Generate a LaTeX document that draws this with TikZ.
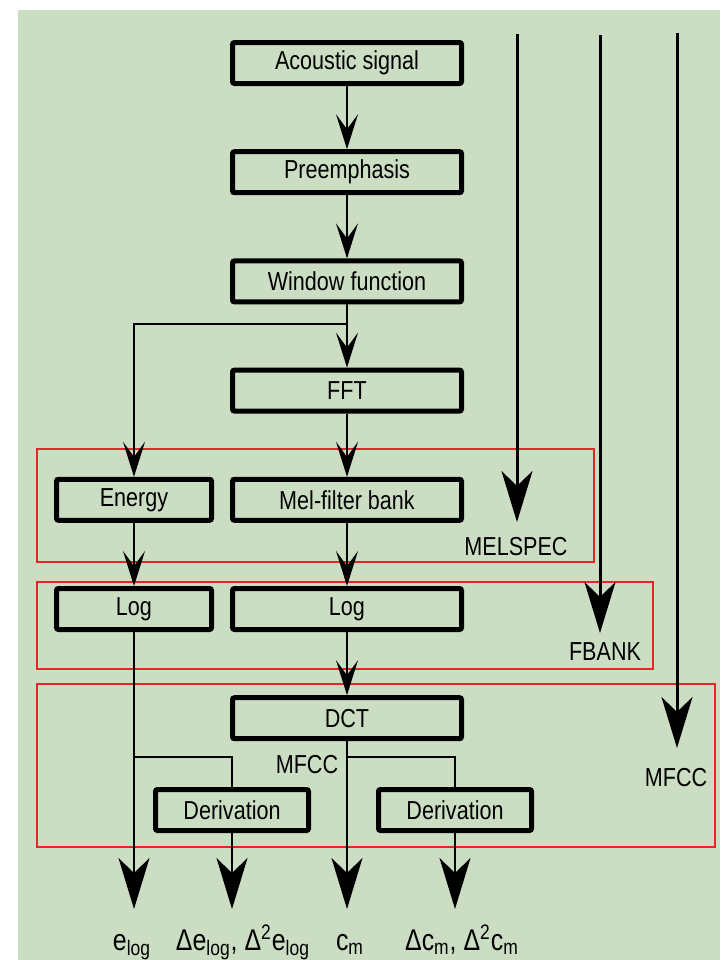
\documentclass[tikz,border=0pt]{standalone}
\usepackage{fontspec}
\setmainfont{Liberation Sans}[FakeStretch=0.83]
\usepackage{tikz}
\usetikzlibrary{arrows.meta,positioning}
\definecolor{bgc}{RGB}{203,222,195}
\definecolor{frm}{RGB}{232,36,40}

\begin{document}
\begin{tikzpicture}[x=0.5pt, y=-0.5pt, node distance=31.6pt, line width=1pt,
    small/.style={-{Stealth[length=17.5pt,width=11pt,inset=7.5pt]}},
    big/.style={-{Stealth[length=25.5pt,width=15.5pt,inset=7.5pt]}}]
\tikzstyle{box}=[draw=black, line width=2.5pt, rounded corners=1pt, minimum width=114.5pt, minimum height=20.5pt, inner sep=0pt, font=\fontsize{13}{15}\selectfont]
\tikzstyle{sbox}=[box, minimum width=77.5pt]
\tikzstyle{lbl}=[font=\fontsize{13}{15}\selectfont, inner sep=0pt]
\tikzstyle{outlbl}=[font=\fontsize{15}{18}\selectfont, inner sep=0pt, text height=20pt, text depth=3pt, anchor=north]
\tikzstyle{frame}=[draw=frm, line width=1pt]
% background and page
\fill[white] (0,0) rectangle (720,960);
\fill[bgc] (18,10) rectangle (720,960);
\useasboundingbox (0,0) rectangle (720,960);
% main column
\node[box]                      (acoustic) at (347,63) {Acoustic signal};
\node[box, below=of acoustic]   (preemph)  {Preemphasis};
\node[box, below=of preemph]    (window)   {Window function};
\node[box, below=of window]     (fft)      {FFT};
\node[box, below=of fft]        (melbank)  {Mel-filter bank};
\node[box, below=of melbank]    (logmel)   {Log};
\node[box, below=of logmel]     (dct)      {DCT};
% side column
\node[sbox, left=8pt of melbank] (energy) {Energy};
\node[sbox, left=8pt of logmel]  (logen)  {Log};
\node[sbox, minimum width=76.5pt] (deriv1) at (232,810) {Derivation};
\node[sbox, minimum width=76.5pt] (deriv2) at (455,810) {Derivation};
\coordinate[below=10pt of window.south] (split1);
\coordinate[below=8pt of dct.south]     (split2);
% labels
\node[lbl] (mfcc)    at (307,765) {MFCC};
\node[lbl] (melspec) at (516,547) {MELSPEC};
\node[lbl] (fbank)   at (605,652) {FBANK};
\node[lbl] (mfccr)   at (676,778) {MFCC};
\node[outlbl] (elog)  at (132,909) {e\textsubscript{log}};
\node[outlbl] (delog) at (243,909) {Δe\textsubscript{log}, Δ\textsuperscript{2}e\textsubscript{log}};
\node[outlbl] (cm)    at (350,909) {c\textsubscript{m}};
\node[outlbl] (dcm)   at (462,909) {Δc\textsubscript{m}, Δ\textsuperscript{2}c\textsubscript{m}};
% red frames
\draw[frame] (37,449) rectangle (594,562);
\draw[frame] (37,582) rectangle (653,669);
\draw[frame] (37,684) rectangle (715,847);
% connectors
\draw[small] (acoustic) -- (preemph);
\draw[small] (preemph) -- (window);
\draw[small] (window) -- (fft);
\draw[small] (split1) -| (energy);
\draw[small] (fft) -- (melbank);
\draw[small] (melbank) -- (logmel);
\draw[small] (energy) -- (logen);
\draw[small] (logmel) -- (dct);
\draw (logen.south |- split2) -| (deriv1.north);
\draw (split2) -| (deriv2.north);
\draw[big] (logen) -- (logen.south |- elog.north);
\draw[big] (deriv1) -- (deriv1.south |- delog.north);
\draw[big] (dct) -- (dct.south |- cm.north);
\draw[big] (deriv2) -- (deriv2.south |- dcm.north);
% direct outputs
\coordinate (melsrc) at (517,34);
\coordinate (melend) at (517,522);
\coordinate (fbsrc)  at (600,35);
\coordinate (fbend)  at (600,633);
\coordinate (mfsrc)  at (677,33);
\coordinate (mfend)  at (677,748);
\draw[big, line width=1.5pt] (melsrc) -- (melend);
\draw[big, line width=1.5pt] (fbsrc) -- (fbend);
\draw[big, line width=1.5pt] (mfsrc) -- (mfend);
\end{tikzpicture}
\end{document}
